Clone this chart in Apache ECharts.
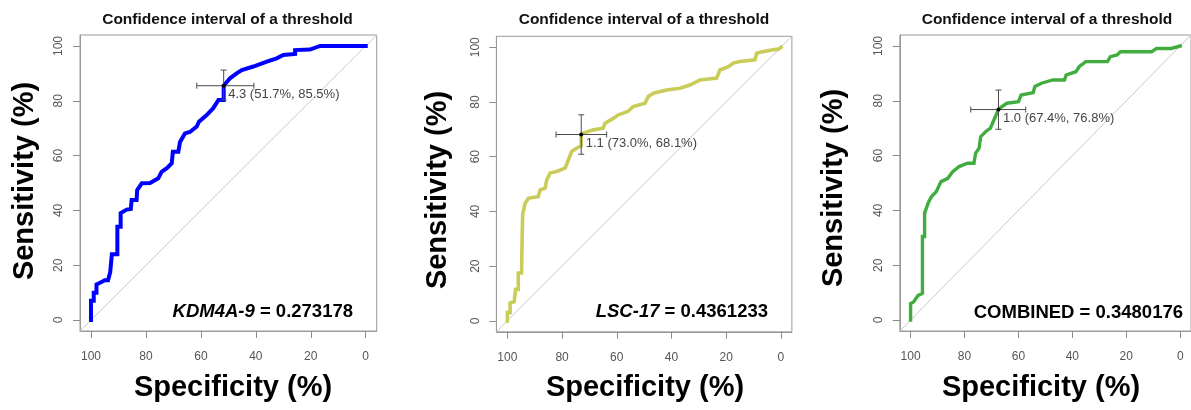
<!DOCTYPE html>
<html>
<head>
<meta charset="utf-8">
<script src="https://cdn.jsdelivr.net/npm/echarts@6/dist/echarts.min.js"></script>
<style>
  html, body { margin: 0; padding: 0; background: #ffffff; }
  #chart { width: 1191px; height: 410px; }
</style>
</head>
<body>
<div id="chart"></div>
<script>
// ROC curves, [specificity %, sensitivity %] vertices, walking from spec 100 down to 0
const kdm4aRoc = [
  [100,0],[100,7],[99,7],[99,10],[98,10],[98,13],[96,14],[95,14.5],[93.8,14.5],[93,17.5],[92.4,18],
  [92.4,24],[90.4,24],[90.4,34],[89.2,34],[89.2,39],[87,40.3],[85.5,40.5],[85.2,43.8],[83.4,43.8],
  [83.2,47.4],[81.5,49.9],[78.5,50],[75.5,51.7],[74.3,54.1],[72.4,55.4],[70.6,57.2],[70.2,61.4],
  [68.2,61.4],[67.6,65],[65.8,68.1],[64,68.6],[61.5,70.6],[60.7,72.4],[57.9,74.8],[55.5,77.3],
  [53.6,80.3],[51.7,80.3],[51.7,85.5],[49.4,88.2],[47,90],[45.1,91.2],[40.9,92.5],[36,94.3],
  [32.4,95.5],[30,96.7],[25.7,97.1],[25.7,98.5],[20.3,98.7],[16.6,100],[0,100]
];
const lsc17Roc = [
  [100,0],[100,3],[99,3],[99,6.5],[97.5,7],[97,7],[97,11.5],[96,11.5],[96,17.5],[94.8,17.5],
  [94.6,30],[94.4,39],[94,39.5],[93.5,43],[92.3,44.8],[88.7,45.4],[88,47.9],[86.2,48.5],[85.6,51.5],
  [84.4,54],[82,54.6],[78.9,55.8],[77.7,58.8],[76.5,61.9],[74.7,63.1],[73,64],[73,68.1],[72.2,68.6],
  [68.6,69.8],[65,70.4],[64.3,72.2],[61.3,74],[59.4,75.3],[56,76.5],[54,78.3],[49.7,79.5],[48.5,82],
  [46.6,83.2],[41.8,84.4],[36.9,85],[33.3,86.2],[29.6,88],[23.5,88.7],[22.3,91.7],[19.2,92.9],
  [17.4,94.2],[15,94.8],[9.5,95.4],[8.9,97.8],[6.5,98.4],[3.4,99],[1,99.3],[0,100]
];
const combinedRoc = [
  [100,0],[100,6],[99,6.5],[98.4,7.3],[97.2,9],[95.6,9.7],[95.6,30.5],[94.8,30.5],[94.8,39],[93.5,42.6],
  [92.3,45],[90.5,46.8],[88.7,50.5],[86.2,51.7],[84.4,54.1],[82,56],[78.9,57.2],[76.5,57.2],[75.9,60.8],
  [74.6,62.7],[74,66.9],[72.2,68.7],[70.4,70],[69.1,73],[67.4,76.8],[66.1,77.9],[64.3,79.1],[60,79.7],
  [59,82.1],[54.5,83],[53.9,85.2],[51.5,86.4],[47.2,87.6],[42.9,87.6],[42.3,89.4],[38.7,90.6],
  [37.4,92.5],[35,94.3],[27,94.3],[25.9,96.1],[23.4,96.7],[22.2,97.9],[10.6,97.9],[8.8,99.1],
  [3.3,99.1],[0,100]
];

// Best threshold per marker: value, point, and confidence intervals
const thresholdValues = ['4.3', '1.1', '1.0'];
const thresholdPoints = [[51.7, 85.5], [73.0, 68.1], [67.4, 76.8]];
const specificityCI = [[61.5, 40.7], [82.2, 63.7], [77.7, 57.3]];
const sensitivityCI = [[80.3, 91.2], [60.9, 75.3], [69.6, 83.9]];

const markerNames = ['KDM4A-9', 'LSC-17', 'COMBINED'];
const markerCutoffs = ['0.273178', '0.4361233', '0.3480176'];
const markerItalic = [true, true, false];
const curveColors = ['#0000ff', '#c9cc58', '#41ad41'];
const curveWidths = [4, 3.6, 3.4];

const tickValues = [0, 20, 40, 60, 80, 100];
const chartTitle = 'Confidence interval of a threshold';
const xTitle = 'Specificity (%)';
const yTitle = 'Sensitivity (%)';

const FONT = '"Liberation Sans", Arial, Helvetica, sans-serif';
const rocData = [kdm4aRoc, lsc17Roc, combinedRoc];

// panel placement in pixels
const panels = [
  { left: 80,    top: 35,   width: 296.7, height: 296, title: [227.5, 20], xt: [233, 388], yt: [25, 181],  auc: [353, 312] },
  { left: 496.4, top: 36.3, width: 295.5, height: 295.5, title: [644, 20], xt: [645, 388], yt: [438, 190], auc: [768, 312] },
  { left: 899.8, top: 35,   width: 295,   height: 296, title: [1047, 20], xt: [1041, 388], yt: [834, 188], auc: [1183, 313] }
];

const grids = [], xAxes = [], yAxes = [], series = [], graphics = [];

panels.forEach((p, i) => {
  grids.push({
    left: p.left, top: p.top, width: p.width, height: p.height,
    show: true, borderColor: '#9a9a9a', borderWidth: 1, backgroundColor: 'transparent'
  });
  xAxes.push({
    gridIndex: i, type: 'value', inverse: true, min: -4, max: 104, position: 'bottom',
    splitLine: { show: false },
    axisLine: { show: true, onZero: false, lineStyle: { color: '#9a9a9a', width: 1 } },
    axisTick: { show: true, inside: false, length: 7, customValues: tickValues, lineStyle: { color: '#8a8a8a' } },
    axisLabel: { show: true, customValues: tickValues, margin: 20, color: '#555', fontSize: 12, fontFamily: FONT }
  });
  yAxes.push({
    gridIndex: i, type: 'value', min: -4, max: 104, position: 'left',
    splitLine: { show: false },
    axisLine: { show: true, onZero: false, lineStyle: { color: '#9a9a9a', width: 1 } },
    axisTick: { show: true, inside: false, length: 7, customValues: tickValues, lineStyle: { color: '#8a8a8a' } },
    axisLabel: { show: true, customValues: tickValues, rotate: 90, margin: 15, color: '#555', fontSize: 12, fontFamily: FONT }
  });

  // chance diagonal, clipped to the plot box
  series.push({
    type: 'line', xAxisIndex: i, yAxisIndex: i, silent: true, symbol: 'none', z: 1,
    data: [[104, -4], [-4, 104]],
    lineStyle: { color: '#c8c8c8', width: 1 }, clip: true
  });

  // ROC curve
  series.push({
    type: 'line', xAxisIndex: i, yAxisIndex: i, silent: true, symbol: 'none', z: 3,
    data: rocData[i],
    lineStyle: { color: curveColors[i], width: curveWidths[i], join: 'miter', cap: 'square' }
  });

  // threshold point with confidence-interval cross and label
  const tp = thresholdPoints[i];
  series.push({
    type: 'custom', xAxisIndex: i, yAxisIndex: i, silent: true, z: 5,
    data: [[tp[0], tp[1], specificityCI[i][0], specificityCI[i][1], sensitivityCI[i][0], sensitivityCI[i][1]]],
    encode: { x: [0, 2, 3], y: [1, 4, 5] },
    renderItem: function (params, api) {
      const sx = api.value(0), sy = api.value(1);
      const c = api.coord([sx, sy]);
      const l = api.coord([api.value(2), sy]);
      const r = api.coord([api.value(3), sy]);
      const b = api.coord([sx, api.value(4)]);
      const t = api.coord([sx, api.value(5)]);
      const cap = 3;
      const ls = { stroke: '#4a4a4a', lineWidth: 1 };
      const seg = (x1, y1, x2, y2) => ({ type: 'line', shape: { x1, y1, x2, y2 }, style: ls });
      return {
        type: 'group',
        children: [
          seg(l[0], c[1], r[0], c[1]),
          seg(l[0], c[1] - cap, l[0], c[1] + cap),
          seg(r[0], c[1] - cap, r[0], c[1] + cap),
          seg(c[0], b[1], c[0], t[1]),
          seg(c[0] - cap, b[1], c[0] + cap, b[1]),
          seg(c[0] - cap, t[1], c[0] + cap, t[1]),
          { type: 'circle', shape: { cx: c[0], cy: c[1], r: 2 }, style: { fill: '#000' } },
          {
            type: 'text',
            style: {
              text: thresholdValues[i] + ' (' + sx.toFixed(1) + '%, ' + sy.toFixed(1) + '%)',
              x: c[0] + 4.5, y: c[1] + 2.5,
              fill: '#444', fontSize: 13, fontFamily: FONT,
              align: 'left', verticalAlign: 'top'
            }
          }
        ]
      };
    }
  });

  // panel title
  graphics.push({
    type: 'text', x: p.title[0], y: p.title[1],
    style: { text: chartTitle, fill: '#111', fontSize: 15.5, fontWeight: 'bold', fontFamily: FONT, align: 'center', verticalAlign: 'middle' }
  });
  // axis titles
  graphics.push({
    type: 'text', x: p.xt[0], y: p.xt[1],
    style: { text: xTitle, fill: '#000', fontSize: 29, fontWeight: 'bold', fontFamily: FONT, align: 'center', verticalAlign: 'middle' }
  });
  graphics.push({
    type: 'text', x: p.yt[0], y: p.yt[1], rotation: Math.PI / 2,
    style: { text: yTitle, fill: '#000', fontSize: 29, fontWeight: 'bold', fontFamily: FONT, align: 'center', verticalAlign: 'middle' }
  });
  // cut-off annotation
  graphics.push({
    type: 'text', x: p.auc[0], y: p.auc[1],
    style: {
      text: '{n|' + markerNames[i] + '}{v| = ' + markerCutoffs[i] + '}',
      align: 'right', verticalAlign: 'middle',
      rich: {
        n: { fontSize: 18.5, fontWeight: 'bold', fontStyle: markerItalic[i] ? 'italic' : 'normal', fontFamily: FONT, fill: '#000', color: '#000' },
        v: { fontSize: 18.5, fontWeight: 'bold', fontFamily: FONT, fill: '#000', color: '#000' }
      }
    }
  });
});

const chart = echarts.init(document.getElementById('chart'), null, { renderer: 'canvas' });
chart.setOption({
  animation: false,
  backgroundColor: '#ffffff',
  grid: grids,
  xAxis: xAxes,
  yAxis: yAxes,
  series: series,
  graphic: graphics
});
</script>
</body>
</html>
